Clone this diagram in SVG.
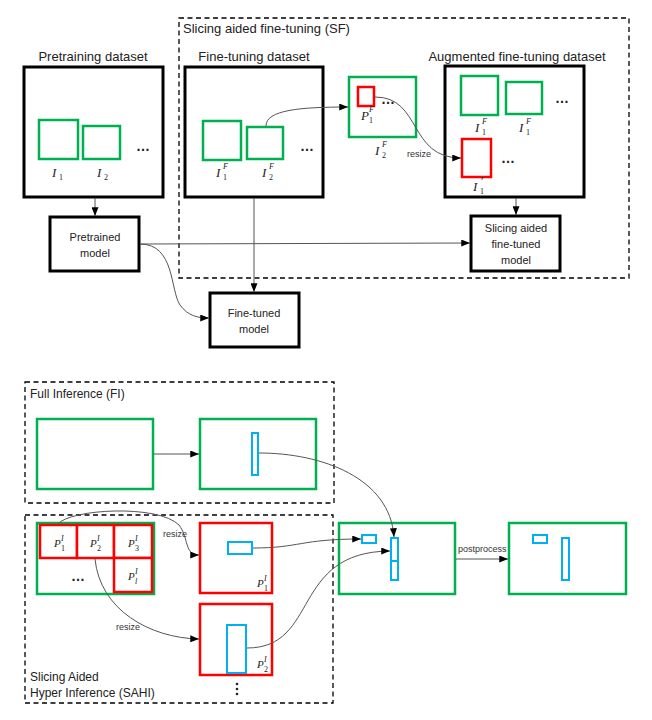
<svg xmlns="http://www.w3.org/2000/svg" width="652" height="720" viewBox="0 0 652 720">
<style>
.bg{fill:#fff}
.blk{fill:#fff;stroke:#000;stroke-width:3}
.grn{fill:#fff;stroke:#00B050;stroke-width:2.5}
.red{fill:#fff;stroke:#FF0000;stroke-width:2.5}
.blu{fill:#fff;stroke:#00B0F0;stroke-width:2}
.dash{fill:none;stroke:#000;stroke-width:1.3;stroke-dasharray:5,3.5}
.con{fill:none;stroke:#555;stroke-width:1}
.arr{marker-end:url(#ah)}
.ttl{font-family:"Liberation Sans",Arial,sans-serif;font-size:13px;fill:#222}
.ttl2{font-family:"Liberation Sans",Arial,sans-serif;font-size:12px;fill:#222}
.nd{font-family:"Liberation Sans",Arial,sans-serif;font-size:11px;fill:#222;text-anchor:middle}
.sm{font-family:"Liberation Sans",Arial,sans-serif;font-size:9px;fill:#333}
.m{font-family:"Liberation Serif","Times New Roman",serif;font-style:italic;font-size:13px;fill:#222}
.ms{font-family:"Liberation Serif","Times New Roman",serif;font-style:italic;font-size:11px;fill:#222}
.sp{font-family:"Liberation Serif","Times New Roman",serif;font-style:italic;font-size:8px;fill:#222}
.sb{font-family:"Liberation Serif","Times New Roman",serif;font-size:8px;fill:#222}
.dots{font-family:"Liberation Sans",Arial,sans-serif;font-size:14px;font-weight:bold;fill:#222}
</style>
<defs>
<marker id="ah" viewBox="0 0 10 8" refX="10" refY="4" markerWidth="9" markerHeight="7" orient="auto" markerUnits="userSpaceOnUse"><path d="M0,0 L10,4 L0,8 z" fill="#000"/></marker>
</defs>
<rect class="bg" x="0" y="0" width="652" height="720"/>

<!-- dashed groups -->
<g id="sf-group">
<rect class="dash" x="179" y="18" width="450" height="260"/>
<text class="ttl" x="183" y="33">Slicing aided fine-tuning (SF)</text>
</g>
<g id="fi-group">
<rect class="dash" x="25" y="382" width="309" height="121"/>
<text class="ttl2" x="30" y="398">Full Inference (FI)</text>
</g>
<g id="sahi-group">
<rect class="dash" x="25" y="515" width="308" height="188"/>
<text class="ttl2" x="30" y="681">Slicing Aided</text>
<text class="ttl2" x="30" y="697">Hyper Inference (SAHI)</text>
</g>

<!-- top nodes -->
<g id="pretraining-dataset">
<text class="ttl" x="93" y="61" text-anchor="middle">Pretraining dataset</text>
<rect class="blk" x="24" y="67" width="139" height="130"/>
<rect class="grn" x="39" y="120" width="39" height="39"/>
<rect class="grn" x="83" y="126" width="37" height="33"/>
<text class="dots" x="136" y="151">…</text>
<text class="m" x="52" y="177">I</text><text class="sb" x="59" y="180">1</text>
<text class="m" x="97" y="177">I</text><text class="sb" x="104" y="180">2</text>
</g>

<g id="fine-tuning-dataset">
<text class="ttl" x="254" y="61" text-anchor="middle">Fine-tuning dataset</text>
<rect class="blk" x="185" y="67" width="138" height="130"/>
<rect class="grn" x="203" y="121" width="38" height="39"/>
<rect class="grn" x="247" y="127" width="36" height="32"/>
<text class="dots" x="300" y="151">…</text>
<text class="m" x="216" y="177">I</text><text class="sp" x="223" y="169">F</text><text class="sb" x="223" y="180">1</text>
<text class="m" x="262" y="177">I</text><text class="sp" x="269" y="169">F</text><text class="sb" x="269" y="180">2</text>
</g>

<g id="sliced-image">
<rect class="grn" x="349" y="77" width="67" height="60"/>
<rect class="red" x="358" y="87" width="16" height="19"/>
<text class="dots" x="381" y="104" font-size="12">…</text>
<text class="m" x="361" y="120">P</text><text class="sp" x="369" y="112">F</text><text class="sb" x="369" y="123">1</text>
<text class="m" x="375" y="155">I</text><text class="sp" x="382" y="147">F</text><text class="sb" x="382" y="158">2</text>
</g>

<g id="augmented-dataset">
<text class="ttl" x="517" y="61" text-anchor="middle">Augmented fine-tuning dataset</text>
<rect class="blk" x="445" y="66" width="139" height="131"/>
<rect class="grn" x="461" y="76" width="37" height="39"/>
<rect class="grn" x="506" y="82" width="36" height="32"/>
<text class="dots" x="555" y="103">…</text>
<text class="m" x="475" y="132">I</text><text class="sp" x="482" y="124">F</text><text class="sb" x="482" y="135">1</text>
<text class="m" x="519" y="132">I</text><text class="sp" x="526" y="124">F</text><text class="sb" x="526" y="135">1</text>
<rect class="red" x="462" y="139" width="29" height="38"/>
<text class="dots" x="501" y="163">…</text>
<text class="m" x="473" y="191">I</text><text class="m" x="480" y="185" font-size="10" font-style="normal">'</text><text class="sb" x="480" y="194">1</text>
</g>

<g id="pretrained-model">
<rect class="blk" x="50" y="217" width="89" height="54"/>
<text class="nd" x="95" y="241">Pretrained</text>
<text class="nd" x="95" y="257">model</text>
</g>
<g id="fine-tuned-model">
<rect class="blk" x="210" y="293" width="89" height="54"/>
<text class="nd" x="254" y="317">Fine-tuned</text>
<text class="nd" x="254" y="333">model</text>
</g>
<g id="sa-fine-tuned-model">
<rect class="blk" x="471" y="216" width="89" height="55"/>
<text class="nd" x="516" y="232">Slicing aided</text>
<text class="nd" x="516" y="248">fine-tuned</text>
<text class="nd" x="516" y="264">model</text>
</g>

<!-- bottom nodes -->
<g id="fi-input">
<rect class="grn" x="37" y="419" width="116" height="70"/>
</g>
<g id="fi-output">
<rect class="grn" x="200" y="419" width="116" height="70"/>
<rect class="blu" x="252" y="433" width="6" height="42"/>
</g>

<g id="sahi-input">
<rect class="grn" x="37" y="523" width="117" height="71"/>
<rect class="red" x="40" y="525" width="37" height="33"/>
<rect class="red" x="77" y="525" width="37" height="33"/>
<rect class="red" x="114" y="525" width="38" height="33"/>
<rect class="red" x="114" y="558" width="38" height="34"/>
<text class="dots" x="71" y="581">…</text>
<text class="ms" x="54" y="547">P</text><text class="sp" x="61" y="541">I</text><text class="sb" x="61" y="551">1</text>
<text class="ms" x="90" y="547">P</text><text class="sp" x="97" y="541">I</text><text class="sb" x="97" y="551">2</text>
<text class="ms" x="128" y="547">P</text><text class="sp" x="135" y="541">I</text><text class="sb" x="135" y="551">3</text>
<text class="ms" x="128" y="580">P</text><text class="sp" x="135" y="574">I</text><text class="sp" x="135" y="584">l</text>
</g>

<g id="slice-1">
<rect class="red" x="200" y="523" width="72" height="70"/>
<rect class="blu" x="228" y="542" width="24" height="12"/>
<text class="ms" x="257" y="587">P</text><text class="sp" x="264" y="581">I</text><text class="sb" x="264" y="591">1</text>
</g>
<g id="slice-2">
<rect class="red" x="200" y="604" width="72" height="71"/>
<rect class="blu" x="227" y="625" width="19" height="48"/>
<text class="ms" x="257" y="668">P</text><text class="sp" x="264" y="662">I</text><text class="sb" x="264" y="672">2</text>
<circle cx="237" cy="684" r="1.3" fill="#222"/>
<circle cx="237" cy="689" r="1.3" fill="#222"/>
<circle cx="237" cy="694" r="1.3" fill="#222"/>
</g>

<g id="merged">
<rect class="grn" x="339" y="523" width="116" height="71"/>
<rect class="blu" x="362" y="535" width="14" height="8"/>
<rect class="blu" x="391" y="538" width="7" height="42"/>
<line x1="391" y1="561" x2="398" y2="561" stroke="#00B0F0" stroke-width="2"/>
</g>
<g id="final">
<rect class="grn" x="509" y="523" width="117" height="71"/>
<rect class="blu" x="533" y="535" width="14" height="8"/>
<rect class="blu" x="562" y="538" width="7" height="42"/>
</g>

<!-- connectors -->
<g id="connectors">
<path class="con arr" d="M95,198 V216"/>
<path class="con arr" d="M516,198 V215"/>
<path class="con arr" stroke="#888" d="M254,198 V292"/>
<path class="con arr" d="M140,244 L470,243"/>
<path class="con arr" d="M140,244 C175,244 170,290 180,305 C188,316 198,318 209,318"/>
<path class="con arr" d="M266,126 C266,110 300,107 348,107"/>
<path class="con arr" d="M375,97 C422,97 408,158 461,158"/>
<text class="sm" x="407" y="157">resize</text>

<path class="con arr" d="M154,454 H199"/>
<path class="con arr" d="M259,453 C322,453 390,478 394,537"/>
<path class="con arr" d="M58,524 C70,509 158,504 179,525 C189,538 184,555 199,555"/>
<text class="sm" x="163" y="537">resize</text>
<path class="con arr" d="M95,559 C100,610 150,638 199,639"/>
<text class="sm" x="116" y="630">resize</text>
<path class="con arr" d="M253,548 C300,548 300,539 361,539"/>
<path class="con arr" d="M247,648 C320,648 290,552 390,551"/>
<path class="con arr" d="M456,559 H508"/>
<text class="sm" x="458" y="552">postprocess</text>
</g>
</svg>
